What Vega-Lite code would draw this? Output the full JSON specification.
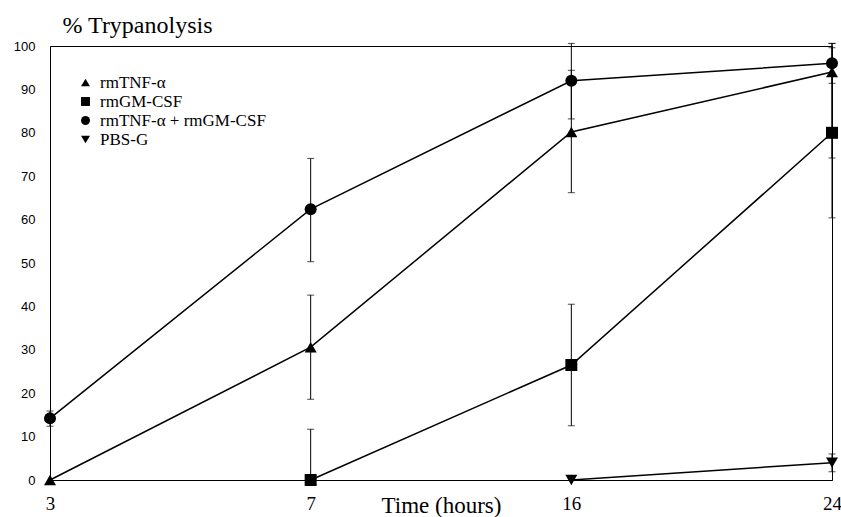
{
  "$schema": "https://vega.github.io/schema/vega-lite/v6.json",
  "width": 782,
  "height": 434,
  "autosize": {"type": "none"},
  "padding": {"left": 50, "top": 46, "right": 9, "bottom": 37},
  "background": "white",
  "config": {
    "view": {"stroke": "black", "strokeWidth": 1},
    "axis": {"grid": false, "domainColor": "black", "domainWidth": 1, "ticks": false, "labelColor": "black", "titleColor": "black"}
  },
  "data": {
    "values": [
      {"series": "rmTNF-α", "time": 3, "value": 0, "lo": null, "hi": null},
      {"series": "rmTNF-α", "time": 7, "value": 30.6, "lo": 18.6, "hi": 42.6},
      {"series": "rmTNF-α", "time": 16, "value": 80.2, "lo": 66.2, "hi": 94.4},
      {"series": "rmTNF-α", "time": 24, "value": 94, "lo": 74.2, "hi": 100.6},
      {"series": "rmGM-CSF", "time": 7, "value": 0, "lo": 0, "hi": 11.7},
      {"series": "rmGM-CSF", "time": 16, "value": 26.5, "lo": 12.5, "hi": 40.5},
      {"series": "rmGM-CSF", "time": 24, "value": 80, "lo": 60.4, "hi": 99.6},
      {"series": "rmTNF-α + rmGM-CSF", "time": 3, "value": 14.2, "lo": 12.4, "hi": 15.9},
      {"series": "rmTNF-α + rmGM-CSF", "time": 7, "value": 62.4, "lo": 50.3, "hi": 74.1},
      {"series": "rmTNF-α + rmGM-CSF", "time": 16, "value": 92, "lo": 83.2, "hi": 100.6},
      {"series": "rmTNF-α + rmGM-CSF", "time": 24, "value": 96, "lo": 91.4, "hi": 100.6},
      {"series": "PBS-G", "time": 16, "value": 0, "lo": null, "hi": null},
      {"series": "PBS-G", "time": 24, "value": 4, "lo": 1.9, "hi": 6}
    ]
  },
  "encoding": {
    "x": {
      "field": "time",
      "type": "ordinal",
      "scale": {"type": "point", "padding": 0, "domain": [3, 7, 16, 24]},
      "axis": {
        "labelAngle": 0,
        "labelFont": "Liberation Serif",
        "labelFontSize": 19,
        "labelBaseline": "alphabetic",
        "labelPadding": 29,
        "title": "Time (hours)",
        "titleFont": "Liberation Serif",
        "titleFontSize": 23,
        "titleFontWeight": "normal",
        "titleBaseline": "alphabetic",
        "titleY": 32
      }
    }
  },
  "layer": [
    {
      "transform": [{"filter": "datum.lo != null"}],
      "mark": {"type": "errorbar", "color": "black", "thickness": 1, "ticks": {"size": 7, "color": "black"}},
      "encoding": {
        "y": {"field": "lo", "type": "quantitative", "title": "% Trypanolysis", "scale": {"domain": [0, 100], "nice": false}},
        "y2": {"field": "hi"}
      }
    },
    {
      "mark": {"type": "line", "color": "black", "strokeWidth": 1.5},
      "encoding": {
        "y": {
          "field": "value",
          "type": "quantitative",
          "title": "% Trypanolysis",
          "scale": {"domain": [0, 100], "nice": false},
          "axis": {
            "values": [0, 10, 20, 30, 40, 50, 60, 70, 80, 90, 100],
            "labelFont": "Liberation Sans",
            "labelFontSize": 13,
            "labelPadding": 15,
            "title": "% Trypanolysis",
            "titleAngle": 0,
            "titleAlign": "left",
            "titleBaseline": "alphabetic",
            "titleX": 12,
            "titleY": -14,
            "titleFont": "Liberation Serif",
            "titleFontSize": 24,
            "titleFontWeight": "normal"
          }
        },
        "detail": {"field": "series"}
      }
    },
    {
      "mark": {"type": "point", "filled": true, "color": "black", "opacity": 1, "size": 144},
      "encoding": {
        "y": {"field": "value", "type": "quantitative", "title": "% Trypanolysis"},
        "shape": {
          "field": "series",
          "type": "nominal",
          "scale": {
            "domain": ["rmTNF-α", "rmGM-CSF", "rmTNF-α + rmGM-CSF", "PBS-G"],
            "range": ["triangle-up", "square", "circle", "triangle-down"]
          },
          "legend": {
            "orient": "none",
            "legendX": 27,
            "legendY": 28,
            "title": null,
            "padding": 0,
            "labelFont": "Liberation Serif",
            "labelFontSize": 17,
            "labelColor": "black",
            "labelOffset": 6,
            "labelLimit": 400,
            "symbolSize": 80,
            "symbolFillColor": "black",
            "symbolStrokeColor": "black",
            "symbolStrokeWidth": 0,
            "symbolOpacity": 1,
            "rowPadding": 1
          }
        }
      }
    }
  ]
}
